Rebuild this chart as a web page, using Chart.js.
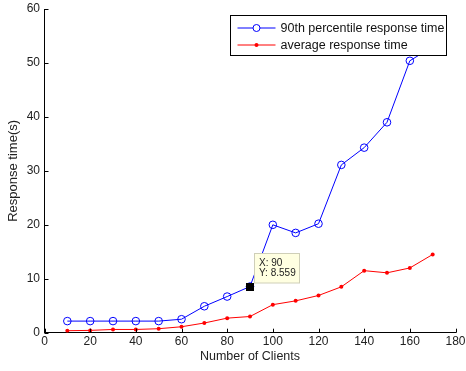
<!DOCTYPE html>
<html>
<head>
<meta charset="utf-8">
<script src="https://cdn.jsdelivr.net/npm/chart.js@4/dist/chart.umd.min.js"></script>
<style>
html,body{margin:0;padding:0;background:#fff;}
canvas{display:block;}
</style>
</head>
<body>
<canvas id="c" width="466" height="371"></canvas>
<script>
const clients = [10,20,30,40,50,60,70,80,90,100,110,120,130,140,150,160,170];
const p90Times = [2.15,2.15,2.15,2.15,2.15,2.5,4.9,6.7,8.559,20.0,18.5,20.2,31.1,34.3,39.0,50.4,53.0];
const avgTimes = [0.37,0.43,0.6,0.6,0.74,1.1,1.8,2.7,3.0,5.2,5.9,6.9,8.5,11.5,11.1,12.0,14.5];
const seriesNames = ['90th percentile response time','average response time'];
const xTitle = 'Number of Clients';
const yTitle = 'Response time(s)';
const tipIndex = 8;

const FONT = '"Liberation Sans", Arial, Helvetica, sans-serif';

const inwardTicks = {
  id: 'inwardTicks',
  afterDraw(chart) {
    const ctx = chart.ctx, xs = chart.scales.x, ys = chart.scales.y;
    ctx.save();
    ctx.strokeStyle = '#000';
    ctx.lineWidth = 1;
    ctx.beginPath();
    xs.ticks.forEach(t => {
      const px = Math.round(xs.getPixelForValue(t.value)) + 0.5;
      ctx.moveTo(px, ys.bottom);
      ctx.lineTo(px, ys.bottom - 4);
    });
    ys.ticks.forEach(t => {
      const py = Math.round(ys.getPixelForValue(t.value)) + 0.5;
      ctx.moveTo(xs.left, py);
      ctx.lineTo(xs.left + 4, py);
    });
    ctx.stroke();
    ctx.restore();
  }
};

const boxLegend = {
  id: 'boxLegend',
  afterDraw(chart) {
    const ctx = chart.ctx, area = chart.chartArea;
    ctx.save();
    ctx.font = '12.5px ' + FONT;
    const ds = chart.data.datasets;
    const tw = Math.max(...ds.map(d => ctx.measureText(d.label).width));
    const w = 50 + tw + 3;
    const right = area.right - 9;
    const left = Math.round(right - w) + 0.5;
    const top = Math.round(area.top + 6) + 0.5;
    const h = 40;
    ctx.fillStyle = '#fff';
    ctx.fillRect(left, top, right - left, h);
    ctx.strokeStyle = '#000';
    ctx.lineWidth = 1;
    ctx.strokeRect(left, top, right - left, h);
    ds.forEach((d, i) => {
      const y = top + 12.5 + i * 17;
      ctx.strokeStyle = d.borderColor;
      ctx.beginPath();
      ctx.moveTo(left + 7, y);
      ctx.lineTo(left + 45, y);
      ctx.stroke();
      const cx = left + 26;
      if (i === 0) {
        ctx.beginPath();
        ctx.arc(cx, y, 3.5, 0, Math.PI * 2);
        ctx.fillStyle = '#fff';
        ctx.fill();
        ctx.stroke();
      } else {
        ctx.beginPath();
        ctx.arc(cx, y, 2, 0, Math.PI * 2);
        ctx.fillStyle = d.borderColor;
        ctx.fill();
      }
      ctx.fillStyle = '#111';
      ctx.textBaseline = 'middle';
      ctx.textAlign = 'left';
      ctx.fillText(d.label, left + 50, y + 0.5);
    });
    ctx.restore();
  }
};

const dataTip = {
  id: 'dataTip',
  afterDraw(chart) {
    const ctx = chart.ctx, xs = chart.scales.x, ys = chart.scales.y;
    const px = xs.getPixelForValue(clients[tipIndex]);
    const py = ys.getPixelForValue(p90Times[tipIndex]);
    ctx.save();
    ctx.fillStyle = '#000';
    ctx.fillRect(Math.round(px - 4), Math.round(py - 4), 8, 8);
    const bl = Math.round(px + 4) + 0.5, bt = Math.round(py - 34) + 0.5;
    const bw = 45, bh = 29.5;
    ctx.fillStyle = '#ffffe1';
    ctx.fillRect(bl, bt, bw, bh);
    ctx.strokeStyle = '#cfcfb8';
    ctx.lineWidth = 1;
    ctx.strokeRect(bl, bt, bw, bh);
    ctx.fillStyle = '#222';
    ctx.font = '10px ' + FONT;
    ctx.textBaseline = 'middle';
    ctx.textAlign = 'left';
    ctx.fillText('X: ' + clients[tipIndex], bl + 4.5, bt + 10);
    ctx.fillText('Y: ' + p90Times[tipIndex].toFixed(3), bl + 4.5, bt + 20);
    ctx.restore();
  }
};

new Chart(document.getElementById('c'), {
  type: 'line',
  data: {
    datasets: [
      {
        label: seriesNames[0],
        data: clients.map((x, i) => ({x: x, y: p90Times[i]})),
        borderColor: '#0000ff',
        backgroundColor: 'rgba(0,0,0,0)',
        borderWidth: 1,
        pointRadius: 3.8,
        pointBorderWidth: 1,
        pointBorderColor: '#0000ff',
        pointBackgroundColor: 'rgba(0,0,0,0)',
        tension: 0,
        fill: false
      },
      {
        label: seriesNames[1],
        data: clients.map((x, i) => ({x: x, y: avgTimes[i]})),
        borderColor: '#ff0000',
        backgroundColor: '#ff0000',
        borderWidth: 1,
        pointRadius: 2,
        pointBorderWidth: 0,
        pointBackgroundColor: '#ff0000',
        tension: 0,
        fill: false
      }
    ]
  },
  options: {
    responsive: false,
    animation: false,
    devicePixelRatio: 1,
    layout: { padding: { left: 0, right: 10.5, top: 9, bottom: 0 } },
    plugins: { legend: { display: false }, tooltip: { enabled: false } },
    scales: {
      x: {
        type: 'linear',
        min: 0, max: 180,
        afterFit(s) { s.height = 38.3; s.paddingLeft = 0; s.paddingRight = 0; },
        grid: { display: false, drawTicks: false },
        border: { display: true, color: '#000', width: 1 },
        ticks: { stepSize: 20, color: '#222', padding: 2, maxRotation: 0, autoSkip: false, font: { family: FONT, size: 12 } },
        title: { display: true, text: xTitle, color: '#222', font: { family: FONT, size: 12.5 }, padding: { top: 0, bottom: 6.5 } }
      },
      y: {
        type: 'linear',
        min: 0, max: 60,
        afterFit(s) { s.width = 44.5; s.paddingTop = 0; s.paddingBottom = 0; },
        grid: { display: false, drawTicks: false },
        border: { display: true, color: '#000', width: 1 },
        ticks: { stepSize: 10, color: '#222', padding: 4.5, font: { family: FONT, size: 12 } },
        title: { display: true, text: yTitle, color: '#222', font: { family: FONT, size: 13 }, padding: { top: 5.5, bottom: 0 } }
      }
    }
  },
  plugins: [inwardTicks, boxLegend, dataTip]
});
</script>
</body>
</html>
